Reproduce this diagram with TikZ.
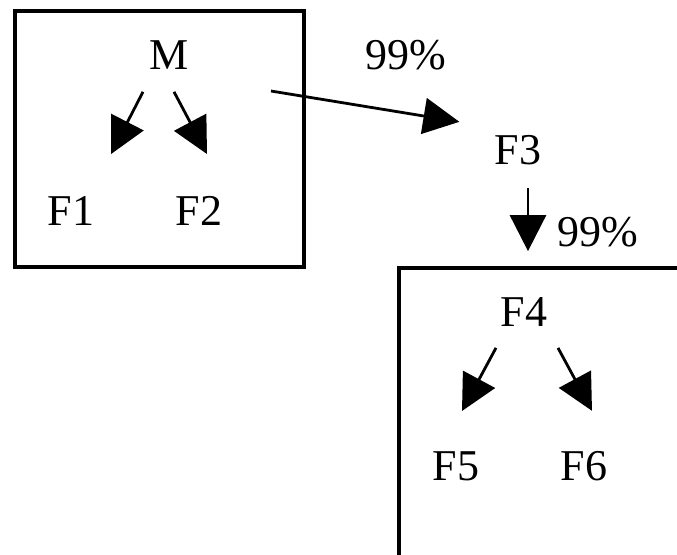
\documentclass[tikz,border=0pt]{standalone}
\usepackage{fontspec}
\setmainfont{Liberation Serif}
\usetikzlibrary{arrows.meta}
\tikzset{
  famnode/.style = {inner sep=0pt, font=\fontsize{22}{26}\selectfont},
  pctnode/.style = {famnode},
  arr/.style = {line width=1.4pt, -{Triangle[length=18pt, width=18pt]}},
  boxframe/.style = {line width=1.8pt}
}

\begin{document}
\begin{tikzpicture}[x=0.5pt, y=-0.5pt]
      \useasboundingbox (0,0) rectangle (677,554);
      \clip (0,0) rectangle (677,554);
      % the two families
      \draw [boxframe] (15,11) rectangle (304,267);
      \draw [boxframe] (399,268) rectangle (720,600);
      \node [famnode] (M)  at (169,55)  {M};
      \node [famnode] (F1) at (71,211)  {F1};
      \node [famnode] (F2) at (199,211) {F2};
      \node [famnode] (F3) at (518,150) {F3};
      \node [famnode] (F4) at (524,312) {F4};
      \node [famnode] (F5) at (456,466) {F5};
      \node [famnode] (F6) at (584,466) {F6};
      \node [pctnode] (p1) at (406,55)  {99\%};
      \node [pctnode] (p2) at (598,232) {99\%};
      % arrows
      \draw [arr] ([shift={(-26,22)}]M.south) -- ([shift={(40,-42)}]F1.north);
      \draw [arr] ([shift={(5,22)}]M.south) -- ([shift={(8,-42)}]F2.north);
      \draw [arr] ([shift={(82,36)}]M.east) -- ([shift={(-35,-13)}]F3.north west);
      \draw [arr] ([shift={(10,23)}]F3.south) -- ([shift={(4,-46)}]F4.north);
      \draw [arr] ([shift={(-28,21)}]F4.south) -- ([shift={(6,-40)}]F5.north);
      \draw [arr] ([shift={(34,21)}]F4.south) -- ([shift={(8,-40)}]F6.north);
\end{tikzpicture}
\end{document}
